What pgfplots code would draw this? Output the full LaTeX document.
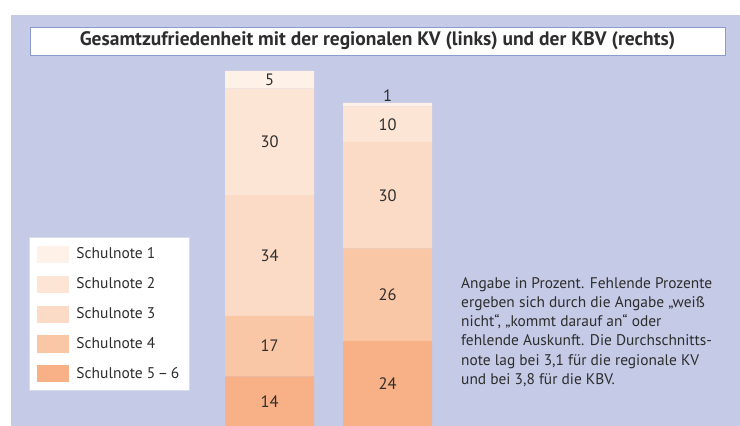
\documentclass[border=0pt]{standalone}
\usepackage{pgfplots}
\pgfplotsset{compat=1.18}
\usepackage{fontspec}
\setmainfont{PT Sans}
\definecolor{bgl}{RGB}{197,202,230}
\definecolor{c1}{RGB}{254,241,232}
\definecolor{c2}{RGB}{253,229,213}
\definecolor{c3}{RGB}{252,219,198}
\definecolor{c4}{RGB}{250,199,166}
\definecolor{c5}{RGB}{248,176,134}
\definecolor{txt}{RGB}{45,45,45}
\definecolor{tbord}{RGB}{140,155,205}
\definecolor{lbord}{RGB}{215,219,238}
\begin{document}
\begin{tikzpicture}[x=1pt,y=1pt]
\useasboundingbox (0,0) rectangle (740,426);
\fill[white] (0,0) rectangle (740,426);
\fill[bgl] (11,0) rectangle (740,411);
\draw[tbord, line width=0.8pt, fill=white] (30,371) rectangle (725,399);
\node[font=\fontsize{19.5}{22}\selectfont\bfseries, text=txt] at (377.5,385) {Gesamtzufriedenheit mit der regionalen KV (links) und der KBV (rechts)};
\node[anchor=base west, align=left, font=\fontsize{15.4}{19.3}\selectfont, text=txt, inner sep=0pt] at (461,41.5) {Angabe in Prozent. Fehlende Prozente\\ergeben sich durch die Angabe „weiß\\nicht“, „kommt darauf an“ oder\\fehlende Auskunft. Die Durchschnitts-\\note lag bei 3,1 für die regionale KV\\und bei 3,8 für die KBV.};
\begin{axis}[
  at={(0,0)}, anchor=south west,
  scale only axis, width=740pt, height=355pt,
  xmin=0, xmax=740, ymin=0, ymax=100,
  hide axis, clip=false,
  ybar stacked, bar width=89pt,
  point meta=explicit,
  /pgf/number format/assume math mode=true,
  nodes near coords,
  every node near coord/.append style={
    /utils/exec={\pgfkeys{/pgf/fpu=true,/pgf/fpu/output format=fixed}\pgfmathsetmacro\myoff{\pgfplotspointmeta<3 ? -9 : 0}\pgfkeys{/pgf/fpu=false}},
    anchor=center, yshift=-\myoff pt, font=\fontsize{16.5}{19}\selectfont, text=txt},
  legend cell align=left,
  reverse legend,
  legend image code/.code={\fill[#1,draw=none] (0pt,-8.5pt) rectangle (32pt,8.5pt);},
  legend style={
    at={(0.03919,0.53239)}, anchor=north west,
    draw=lbord, line width=1pt, fill=white,
    font=\fontsize{15.5}{18}\selectfont, text=txt,
    inner xsep=8pt, inner ysep=8pt,
    row sep=13pt,
    /tikz/every odd column/.append style={column sep=5pt},
  },
]
\addplot[fill=c5, draw=none] coordinates {(269.5,14) [14] (387.5,24) [24]};
\addlegendentry{Schulnote 5\,–\,6}
\addplot[fill=c4, draw=none] coordinates {(269.5,17) [17] (387.5,26) [26]};
\addlegendentry{Schulnote 4}
\addplot[fill=c3, draw=none] coordinates {(269.5,34) [34] (387.5,30) [30]};
\addlegendentry{Schulnote 3}
\addplot[fill=c2, draw=none] coordinates {(269.5,30) [30] (387.5,10) [10]};
\addlegendentry{Schulnote 2}
\addplot[fill=c1, draw=none] coordinates {(269.5,5) [5] (387.5,1) [1]};
\addlegendentry{Schulnote 1}
\end{axis}
\end{tikzpicture}
\end{document}
